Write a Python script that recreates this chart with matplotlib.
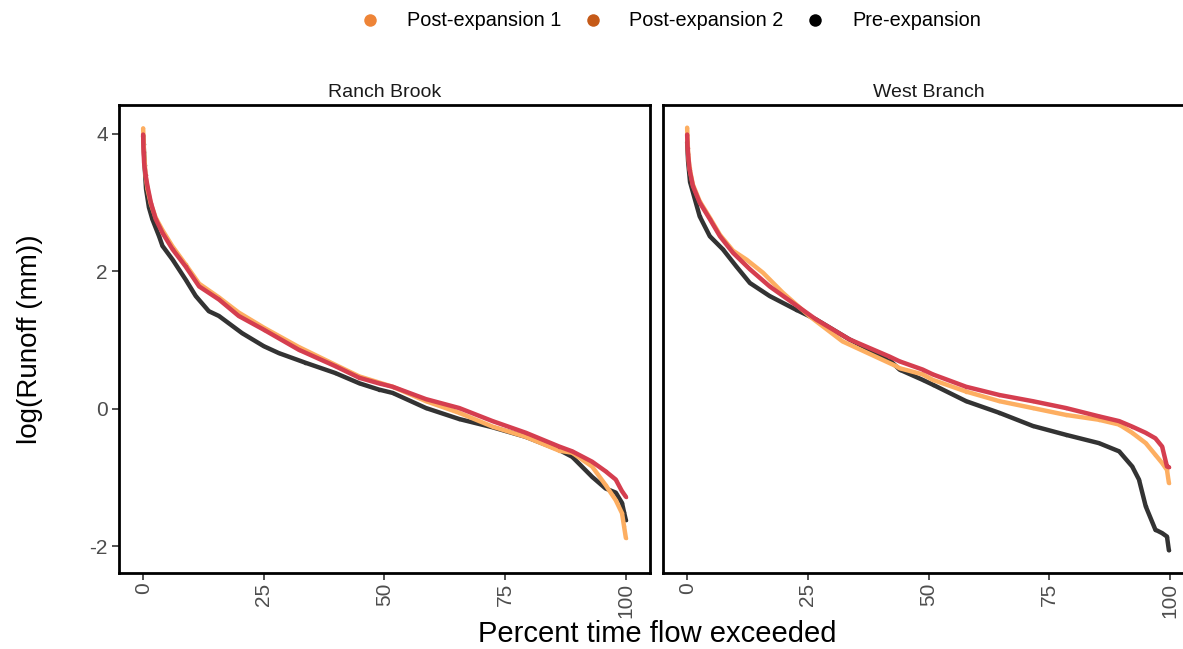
import numpy as np
import matplotlib.pyplot as plt
from matplotlib.lines import Line2D

plt.rcParams['font.family'] = ['Liberation Sans', 'DejaVu Sans']

panels = ["Ranch Brook", "West Branch"]
series = ["Post-expansion 1", "Post-expansion 2", "Pre-expansion"]
legend_colors = ["#EE8437", "#C55A18", "#000000"]
line_colors = ["#FDAE61", "#D53E4F", "#333333"]

# Ranch Brook (percent exceeded, log runoff)
rb_pre_x = [0, 0.1, 0.3, 0.6, 1.2, 1.9, 3.3, 4.0, 6.1, 8.8, 10.9, 13.6, 15.7, 20.5, 25.0, 28.1,
            33.6, 39.8, 44.8, 48.8, 51.7, 58.6, 65.5, 72.4, 79.3, 86.2, 88.9, 93.0, 95.8, 97.9,
            99.2, 99.6, 100]
rb_pre_y = [3.97, 3.85, 3.55, 3.2, 2.93, 2.76, 2.51, 2.37, 2.17, 1.88, 1.64, 1.42, 1.35, 1.10, 0.91,
            0.81, 0.67, 0.52, 0.37, 0.28, 0.23, 0.01, -0.15, -0.27, -0.41, -0.60, -0.70, -0.99,
            -1.16, -1.22, -1.37, -1.50, -1.62]
rb_p1_x = [0, 0.2, 0.5, 0.9, 1.6, 2.6, 4.0, 6.1, 8.8, 11.6, 15.7, 19.8, 25.0, 32.2, 39.8, 44.8,
           51.7, 58.6, 65.5, 72.4, 79.3, 86.2, 88.9, 93.0, 95.8, 97.9, 99.2, 99.6, 100]
rb_p1_y = [4.08, 3.7, 3.4, 3.2, 2.98, 2.78, 2.6, 2.36, 2.1, 1.82, 1.62, 1.40, 1.18, 0.90, 0.64, 0.47,
           0.32, 0.11, -0.06, -0.26, -0.41, -0.61, -0.64, -0.84, -1.11, -1.33, -1.52, -1.70, -1.88]
rb_p2_x = [0, 0.1, 0.2, 0.5, 0.9, 1.6, 2.6, 4.0, 6.1, 8.8, 11.6, 15.7, 19.8, 25.0, 32.2, 39.8,
           44.8, 48.8, 51.7, 58.6, 65.5, 72.4, 79.3, 86.2, 88.9, 93.0, 95.8, 97.9, 99.2, 100]
rb_p2_y = [3.99, 3.73, 3.58, 3.4, 3.24, 3.0, 2.76, 2.56, 2.32, 2.07, 1.78, 1.59, 1.35, 1.15, 0.86,
           0.62, 0.45, 0.37, 0.32, 0.14, 0.01, -0.18, -0.35, -0.55, -0.62, -0.77, -0.91, -1.03,
           -1.20, -1.28]

# West Branch
wb_pre_x = [0, 0.2, 0.6, 1.6, 2.6, 4.7, 7.4, 10.2, 13.0, 17.1, 22.6, 26.7, 33.6, 41.9, 44.0, 48.8,
            50.9, 57.8, 64.7, 71.6, 78.5, 85.3, 89.5, 92.2, 93.6, 95.0, 97.0, 98.4, 99.4, 99.8]
wb_pre_y = [3.88, 3.6, 3.3, 3.05, 2.80, 2.51, 2.32, 2.07, 1.83, 1.64, 1.44, 1.30, 1.01, 0.71, 0.57,
            0.42, 0.35, 0.11, -0.06, -0.25, -0.38, -0.50, -0.62, -0.84, -1.03, -1.42, -1.76, -1.81,
            -1.86, -2.06]
wb_p1_x = [0, 0.2, 0.5, 1.2, 2.6, 4.7, 6.8, 9.5, 12.3, 15.7, 19.8, 25.3, 32.2, 43.3, 44.0, 48.8,
           50.9, 57.8, 64.7, 71.6, 78.5, 85.3, 89.5, 92.2, 95.0, 97.0, 98.4, 99.4, 99.8]
wb_p1_y = [4.09, 3.72, 3.5, 3.26, 3.02, 2.78, 2.53, 2.30, 2.17, 1.98, 1.69, 1.35, 0.98, 0.62, 0.59,
           0.50, 0.42, 0.25, 0.11, 0.01, -0.09, -0.16, -0.23, -0.35, -0.50, -0.67, -0.79, -0.89,
           -1.08]
wb_p2_x = [0, 0.1, 0.2, 0.5, 1.2, 2.6, 4.7, 6.8, 9.5, 13.0, 17.1, 21.9, 26.7, 33.6, 41.9, 44.0,
           48.8, 50.9, 57.8, 64.7, 71.6, 78.5, 85.3, 89.5, 92.2, 95.0, 97.0, 98.4, 99.4, 99.8]
wb_p2_y = [3.99, 3.80, 3.70, 3.48, 3.24, 3.00, 2.76, 2.51, 2.27, 2.03, 1.78, 1.54, 1.30, 1.01, 0.76,
           0.69, 0.57, 0.50, 0.32, 0.20, 0.11, 0.01, -0.11, -0.18, -0.26, -0.35, -0.43, -0.55,
           -0.84, -0.85]

data = {
    "Ranch Brook": [(rb_p1_x, rb_p1_y), (rb_p2_x, rb_p2_y), (rb_pre_x, rb_pre_y)],
    "West Branch": [(wb_p1_x, wb_p1_y), (wb_p2_x, wb_p2_y), (wb_pre_x, wb_pre_y)],
}

W, H = 1183, 649
fig = plt.figure(figsize=(W / 100, H / 100), dpi=100)

lefts = [119, 663]
pw, top, bot = 531, 105, 573
draw_order = [2, 0, 1]

for i, name in enumerate(panels):
    ax = fig.add_axes([lefts[i] / W, (H - bot) / H, pw / W, (bot - top) / H])
    for k in draw_order:
        xs, ys = data[name][k]
        ax.plot(xs, ys, color=line_colors[k], lw=3.2, solid_capstyle='round',
                marker='o', ms=2.5, mew=0)
    ax.set_xlim(-5, 105)
    ax.set_ylim(-2.39, 4.42)
    ax.set_xticks([0, 25, 50, 75, 100])
    ax.set_xticklabels(["0", "25", "50", "75", "100"], rotation=90)
    ax.tick_params(axis='both', length=5, width=1.2, color='#333333',
                   labelsize=15, labelcolor='#4D4D4D', pad=3)
    ax.tick_params(axis='x', pad=2)
    if i == 0:
        ax.set_yticks([-2, 0, 2, 4])
        ax.set_yticklabels(["-2", "0", "2", "4"])
    else:
        ax.set_yticks([])
    for s in ax.spines.values():
        s.set_linewidth(2)
        s.set_color('black')
    ax.set_title(name, fontsize=14, pad=6, color='#1A1A1A')

fig.text(30 / W, 1 - 339 / H, "log(Runoff (mm))", rotation=90, ha='center', va='center', fontsize=20)
fig.text(657 / W, 1.5 / H, "Percent time flow exceeded", ha='center', va='bottom', fontsize=21)

handles = [Line2D([], [], ls='none', marker='o', ms=9, mew=0, color=c) for c in legend_colors]
fig.legend(handles, series, loc='center', bbox_to_anchor=(668 / W, 1 - 21 / H), ncol=3,
           frameon=False, fontsize=14.3, handletextpad=1.1, columnspacing=0.85, handlelength=1.5)

fig.savefig("out.png", dpi=100)
